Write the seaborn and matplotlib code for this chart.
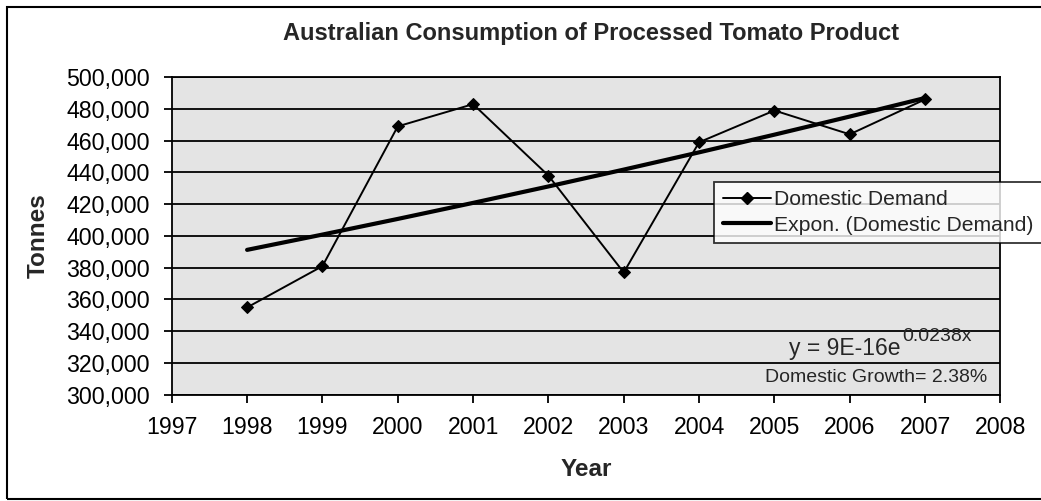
import numpy as np
import pandas as pd
import matplotlib
matplotlib.use('Agg')
import matplotlib.pyplot as plt
import seaborn as sns
from matplotlib.ticker import FuncFormatter
from matplotlib.lines import Line2D
from matplotlib.patches import Rectangle

# Data
years = [1998, 1999, 2000, 2001, 2002, 2003, 2004, 2005, 2006, 2007]
demand = [355000, 381000, 469000, 483000, 438000, 377000, 459000, 479000, 464000, 486000]

sns.set_theme(style='white')
plt.rcParams['font.family'] = ['Liberation Sans', 'DejaVu Sans']

df = pd.DataFrame({'Year': years, 'Demand': demand})

# Exponential trend line (Excel-style fit on log values)
b, a = np.polyfit(df['Year'], np.log(df['Demand']), 1)
df['Trend'] = np.exp(a + b * df['Year'])

fig = plt.figure(figsize=(10.41, 5.01), dpi=100)
ax = fig.add_axes([0.165, 0.212, 0.796, 0.634])
ax.set_facecolor('#e4e4e4')

# Outer chart border
fig.patches.append(Rectangle((0.007, 0.004), 0.997, 0.982, transform=fig.transFigure,
                             fill=False, edgecolor='black', linewidth=1.5))

sns.lineplot(data=df, x='Year', y='Trend', ax=ax, color='black', linewidth=3, zorder=3)
sns.lineplot(data=df, x='Year', y='Demand', ax=ax, color='black', linewidth=1.4,
             marker='D', markersize=6.5, markeredgecolor='black', zorder=4)

ax.set_xlim(1997, 2008)
ax.set_ylim(300000, 500000)
ax.set_xticks(range(1997, 2009))
ax.set_yticks(range(300000, 500001, 20000))
ax.yaxis.set_major_formatter(FuncFormatter(lambda v, p: f'{int(v):,}'))
ax.grid(axis='y', color='black', linewidth=1.3)
ax.grid(axis='x', visible=False)
ax.tick_params(axis='both', labelsize=16.7, length=6, width=1.3, direction='out',
               bottom=True, left=True, colors='black')
ax.tick_params(axis='x', pad=9)
ax.tick_params(axis='y', pad=10)
for s in ax.spines.values():
    s.set_color('black')
    s.set_linewidth(1.3)

ax.set_xlabel('Year', fontsize=17.5, fontweight='bold', labelpad=14)
ax.set_ylabel('Tonnes', fontsize=17.5, fontweight='bold', labelpad=12)
fig.text(0.568, 0.934, 'Australian Consumption of Processed Tomato Product',
         ha='center', va='center', fontsize=17, fontweight='bold')

ax.text(0.879, 0.145, 'y = 9E-16e', transform=ax.transAxes,
        ha='right', va='center', fontsize=16.5)
ax.text(0.882, 0.182, '0.0238x', transform=ax.transAxes,
        ha='left', va='center', fontsize=14)
ax.text(0.850, 0.053, 'Domestic Growth= 2.38%', transform=ax.transAxes,
        ha='center', va='center', fontsize=14)

handles = [
    Line2D([0], [0], color='black', linewidth=1.4, marker='D', markersize=6.5),
    Line2D([0], [0], color='black', linewidth=3),
]
leg = fig.legend(handles, ['Domestic Demand', 'Expon. (Domestic Demand)'],
                 loc='upper left', bbox_to_anchor=(0.686, 0.637), fontsize=15.2,
                 frameon=True, fancybox=False, handlelength=2.3, borderpad=0.4,
                 labelspacing=0.3, handletextpad=0.15, borderaxespad=0)
leg.get_frame().set_edgecolor('black')
leg.get_frame().set_facecolor('white')
leg.get_frame().set_linewidth(1.3)
leg.set_zorder(10)

fig.savefig('out.png', dpi=100)
